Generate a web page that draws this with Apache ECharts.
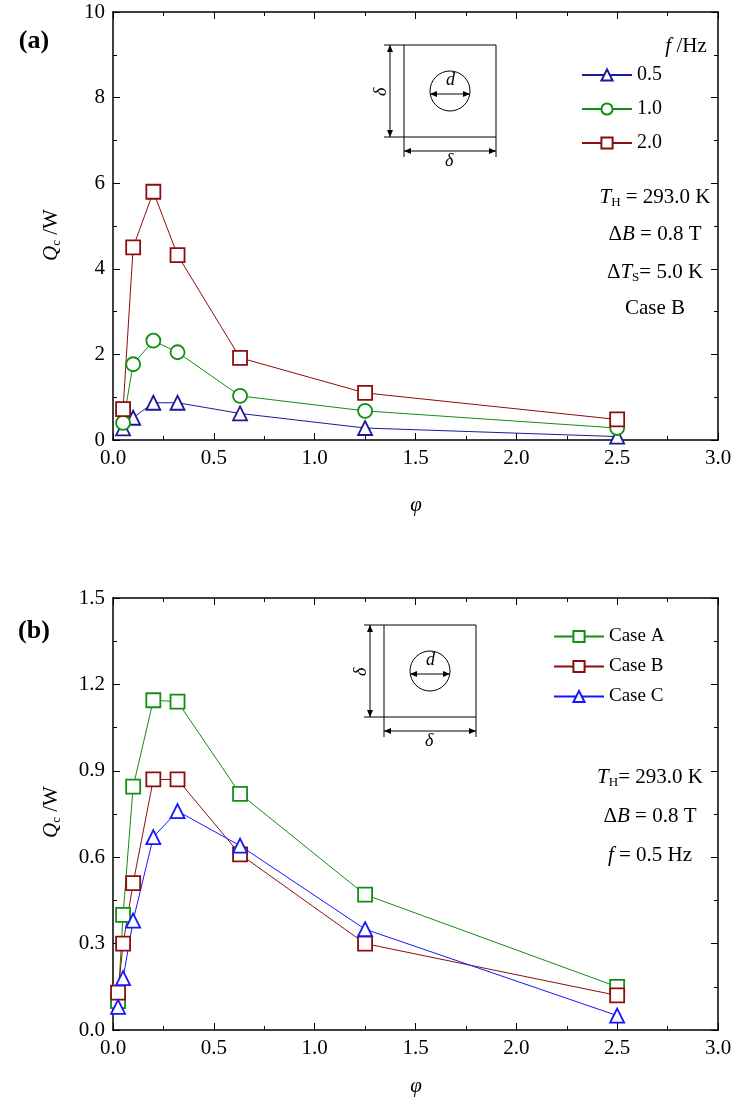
<!DOCTYPE html>
<html><head><meta charset="utf-8">
<script src="https://cdn.jsdelivr.net/npm/echarts@6/dist/echarts.min.js"></script>
<style>html,body{margin:0;background:#fff}#c{width:736px;height:1106px}</style>
</head><body><div id="c"></div>
<script>
// 数据
const phiA = [0.05, 0.1, 0.2, 0.32, 0.63, 1.25, 2.5]
const f05 = [0.27, 0.52, 0.87, 0.87, 0.62, 0.28, 0.08]
const f10 = [0.40, 1.77, 2.32, 2.05, 1.03, 0.68, 0.28]
const f20 = [0.72, 4.50, 5.80, 4.32, 1.92, 1.10, 0.48]

const phiB = [0.025, 0.05, 0.1, 0.2, 0.32, 0.63, 1.25, 2.5]
const caseA = [0.10, 0.40, 0.845, 1.145, 1.14, 0.82, 0.47, 0.15]
const caseB = [0.13, 0.30, 0.51, 0.87, 0.87, 0.61, 0.30, 0.12]
const caseC = [0.08, 0.18, 0.38, 0.67, 0.76, 0.64, 0.35, 0.05]

const FONT = 'Liberation Serif'
const pairs = (xs, ys) => xs.map((x, i) => [x, ys[i]])

const axisBase = (gi, min, max, interval, fmt, show) => ({
  gridIndex: gi, type: 'value', min, max, interval,
  axisLine: { show: true, onZero: false, lineStyle: { color: '#000', width: 1.5 } },
  axisTick: { show: true, inside: true, length: 7, lineStyle: { color: '#000' } },
  minorTick: { show: true, splitNumber: 2, length: 4, lineStyle: { color: '#000' } },
  splitLine: { show: false },
  axisLabel: { show, color: '#000', fontFamily: FONT, fontSize: 21, formatter: fmt, margin: 8 },
})
const xAxes = (gi) => [
  Object.assign(axisBase(gi, 0, 3, 0.5, v => v.toFixed(1), true), { position: 'bottom' }),
  Object.assign(axisBase(gi, 0, 3, 0.5, null, false), { position: 'top' }),
]
const yAxes = (gi, max, iv, fmt) => [
  Object.assign(axisBase(gi, 0, max, iv, fmt, true), { position: 'left' }),
  Object.assign(axisBase(gi, 0, max, iv, null, false), { position: 'right' }),
]

const ser = (name, data, color, symbol, xi, yi) => ({
  name, type: 'line', data, xAxisIndex: xi, yAxisIndex: yi,
  symbol, symbolSize: 14, showAllSymbol: true,
  lineStyle: { color, width: 1 },
  itemStyle: { color: '#fff', borderColor: color, borderWidth: 1.8 },
})

const BLUE = '#1a1a99', GREEN = '#108f10', RED = '#8b0d0d', BBLUE = '#1515ff'

// 箭头
const head = (x, y, dx, dy) => ({
  type: 'polygon', shape: { points: [[x, y], [x - dx * 7 - dy * 3, y - dy * 7 - dx * 3], [x - dx * 7 + dy * 3, y - dy * 7 + dx * 3]] },
  style: { fill: '#000' },
})
// 插图方框
const inset = (x, y, s) => {
  const cx = x + s / 2, cy = y + s / 2
  return [
    { type: 'rect', shape: { x, y, width: s, height: s }, style: { fill: 'none', stroke: '#000', lineWidth: 1 } },
    { type: 'circle', shape: { cx, cy, r: 20 }, style: { fill: 'none', stroke: '#000', lineWidth: 1 } },
    { type: 'line', shape: { x1: cx - 19, y1: cy + 3, x2: cx + 19, y2: cy + 3 }, style: { stroke: '#000' } },
    head(cx - 20, cy + 3, -1, 0), head(cx + 20, cy + 3, 1, 0),
    { type: 'text', style: { text: 'd', x: cx - 4, y: cy - 20, font: `italic 18px ${FONT}` } },
    { type: 'line', shape: { x1: x - 14, y1: y, x2: x - 14, y2: y + s }, style: { stroke: '#000' } },
    head(x - 14, y, 0, -1), head(x - 14, y + s, 0, 1),
    { type: 'line', shape: { x1: x - 20, y1: y, x2: x, y2: y }, style: { stroke: '#000' } },
    { type: 'line', shape: { x1: x - 20, y1: y + s, x2: x, y2: y + s }, style: { stroke: '#000' } },
    { type: 'text', rotation: Math.PI / 2, x: x - 32, y: cy + 5, style: { text: 'δ', font: `italic 18px ${FONT}` } },
    { type: 'line', shape: { x1: x, y1: y + s + 14, x2: x + s, y2: y + s + 14 }, style: { stroke: '#000' } },
    head(x, y + s + 14, -1, 0), head(x + s, y + s + 14, 1, 0),
    { type: 'line', shape: { x1: x, y1: y + s, x2: x, y2: y + s + 20 }, style: { stroke: '#000' } },
    { type: 'line', shape: { x1: x + s, y1: y + s, x2: x + s, y2: y + s + 20 }, style: { stroke: '#000' } },
    { type: 'text', style: { text: 'δ', x: cx - 5, y: y + s + 15, font: `italic 18px ${FONT}` } },
  ]
}
const txt = (text, x, y, extra) => ({ type: 'text', style: Object.assign({ text, x, y, font: `20px ${FONT}`, fill: '#000', textAlign: 'center' }, extra) })
const richStyle = {
  i: { fontFamily: FONT, fontStyle: 'italic', fontSize: 21 },
  n: { fontFamily: FONT, fontSize: 21 },
  s: { fontFamily: FONT, fontSize: 13, verticalAlign: 'bottom', padding: [10, 0, 0, 0] },
}
const rich = (x, y, parts) => ({
  type: 'text', style: { x, y, textAlign: 'center', text: parts.map(p => `{${p[0]}|${p[1]}}`).join(''), rich: richStyle },
})
const qLabel = (y) => ({ type: 'text', rotation: Math.PI / 2, x: 40, y, style: { textAlign: 'center', text: '{i|Q}{s|c}{n| /W}', rich: richStyle } })

const chart = echarts.init(document.getElementById('c'))
chart.setOption({
  animation: false,
  textStyle: { fontFamily: FONT },
  grid: [
    { left: 113, top: 12, width: 605, height: 428, outerBoundsMode: 'none', containLabel: false },
    { left: 113, top: 598, width: 605, height: 432, outerBoundsMode: 'none', containLabel: false },
  ],
  xAxis: [...xAxes(0), ...xAxes(1)],
  yAxis: [...yAxes(0, 10, 2, v => String(v)), ...yAxes(1, 1.5, 0.3, v => v.toFixed(1))],
  legend: [
    { data: ['0.5', '1.0', '2.0'], orient: 'vertical', left: 576, top: 60, itemGap: 14, itemWidth: 50, itemHeight: 14,
      textStyle: { fontFamily: FONT, fontSize: 20, color: '#000' } },
    { data: ['Case A', 'Case B', 'Case C'], orient: 'vertical', left: 548, top: 622, itemGap: 11, itemWidth: 50, itemHeight: 14,
      textStyle: { fontFamily: FONT, fontSize: 19, color: '#000' } },
  ],
  series: [
    ser('0.5', pairs(phiA, f05), BLUE, 'triangle', 0, 0),
    ser('1.0', pairs(phiA, f10), GREEN, 'circle', 0, 0),
    ser('2.0', pairs(phiA, f20), RED, 'rect', 0, 0),
    ser('Case A', pairs(phiB, caseA), GREEN, 'rect', 2, 2),
    ser('Case B', pairs(phiB, caseB), RED, 'rect', 2, 2),
    ser('Case C', pairs(phiB, caseC), BBLUE, 'triangle', 2, 2),
  ],
  graphic: [
    ...inset(404, 45, 92),
    ...inset(384, 625, 92),
    txt('(a)', 34, 28, { font: `bold 26px ${FONT}` }),
    txt('(b)', 34, 618, { font: `bold 26px ${FONT}` }),
    rich(686, 36, [['i', 'f'], ['n', ' /Hz']]),
    rich(416, 495, [['i', 'φ']]),
    rich(416, 1076, [['i', 'φ']]),
    qLabel(235),
    qLabel(812),
    rich(655, 186, [['i', 'T'], ['s', 'H'], ['n', ' = 293.0 K']]),
    rich(655, 224, [['n', 'Δ'], ['i', 'B'], ['n', ' = 0.8 T']]),
    rich(655, 261, [['n', 'Δ'], ['i', 'T'], ['s', 'S'], ['n', '= 5.0 K']]),
    rich(655, 298, [['n', 'Case B']]),
    rich(650, 766, [['i', 'T'], ['s', 'H'], ['n', '= 293.0 K']]),
    rich(650, 806, [['n', 'Δ'], ['i', 'B'], ['n', ' = 0.8 T']]),
    rich(650, 845, [['i', 'f'], ['n', ' = 0.5 Hz']]),
  ],
})
</script></body></html>
